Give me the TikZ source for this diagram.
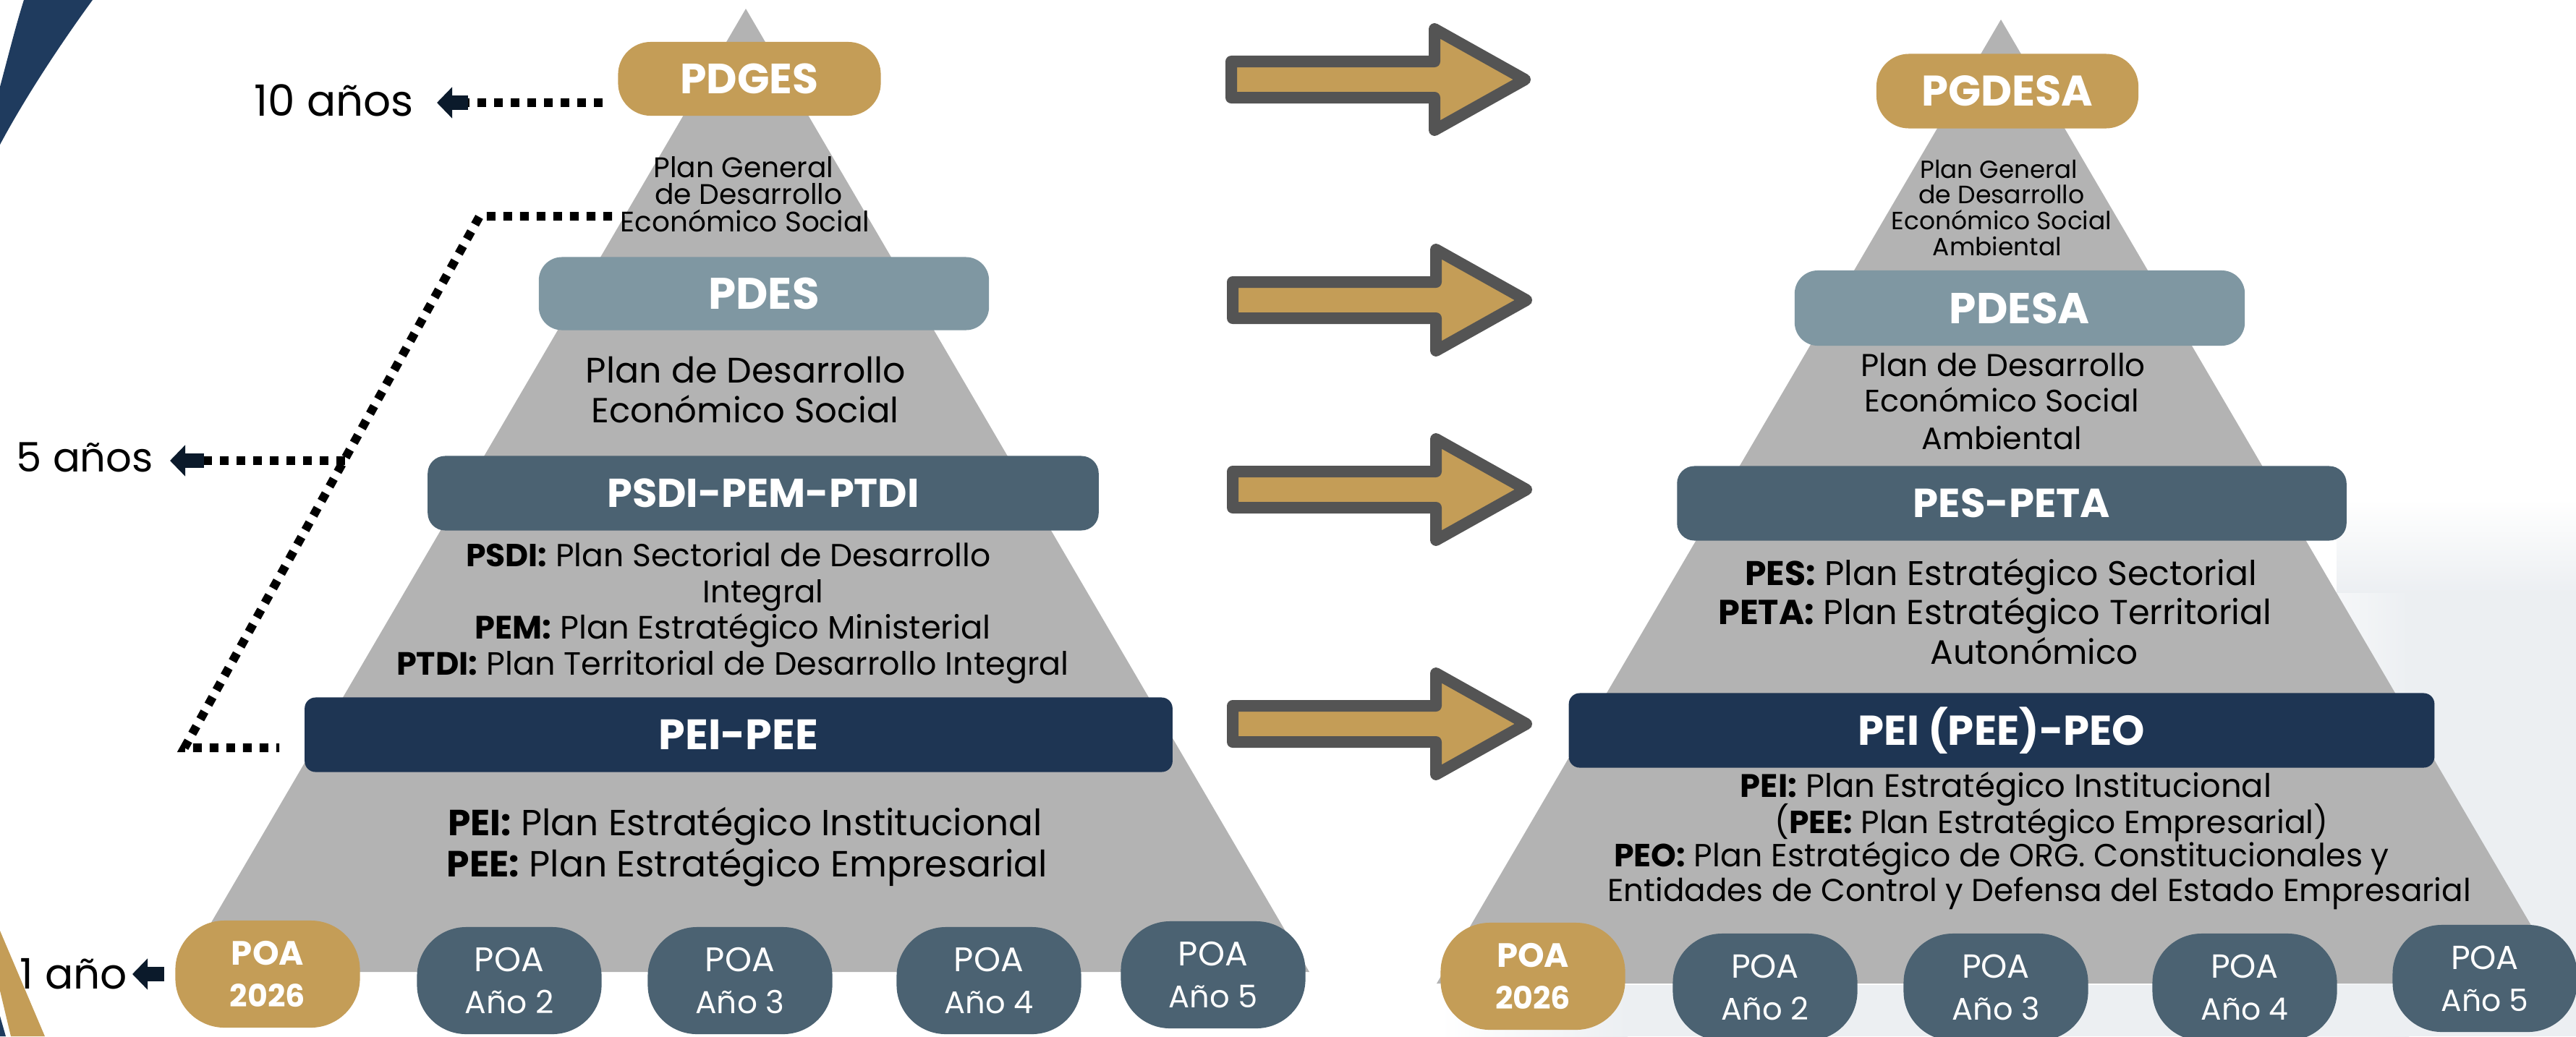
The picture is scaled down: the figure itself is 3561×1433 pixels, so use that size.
\documentclass[tikz,border=0pt]{standalone}
\usepackage{fontspec}
\setmainfont{Poppins}
\usetikzlibrary{arrows.meta}
\definecolor{goldc}{HTML}{C49D57}
\definecolor{pdesc}{HTML}{7F97A2}
\definecolor{slatec}{HTML}{4B6272}
\definecolor{navyc}{HTML}{1E3553}
\definecolor{pyrc}{HTML}{B3B3B3}
\definecolor{arrgray}{HTML}{545454}
\definecolor{inkc}{HTML}{0B1A2B}
\definecolor{swooshc}{HTML}{1F3B5E}
\definecolor{photoc}{HTML}{ECEFF2}
\newcommand\fsz[2]{\fontsize{#1pt}{#2pt}\selectfont}
\newcommand\fitw[2]{\resizebox{#1cm}{!}{#2}}
\tikzset{
  bigarrow/.pic={\draw[draw=arrgray, fill=goldc, line width=0.16cm, line join=round]
    (0,-25) -- (281,-25) -- (281,-70) -- (406,0) -- (281,70) -- (281,25) -- (0,25) -- cycle;}
}
\begin{document}
\begin{tikzpicture}[x=0.01cm, y=-0.01cm,
  every node/.style={inner sep=0pt, outer sep=0pt},
  bandbox/.style={rectangle, minimum height=1.03cm, text=white, font=\bfseries\fsz{13}{16}},
  poa/.style={rectangle, rounded corners=0.68cm, minimum width=2.55cm, minimum height=1.48cm,
    fill=slatec, text=white, align=center, font=\fsz{11}{16.5}},
  poagold/.style={poa, fill=goldc, font=\bfseries\fsz{11}{16.5}},
  tx/.style={anchor=base, font=\fsz{12}{14}},
  tE/.style={anchor=base east, font=\fsz{16}{19}},
  dotline/.style={draw=black, line width=0.12cm, dash pattern=on 0.12cm off 0.11cm},
  yeararrow/.style={draw=inkc, line width=0.2cm, -{Triangle[width=0.42cm,length=0.21cm]}}
]
\useasboundingbox (0,0) rectangle (3561,1433);
\clip (0,0) rectangle (3561,1433);

% background decorations
\shade[top color=white, bottom color=photoc] (3230,690) rectangle (3561,820);
\shade[left color=white, right color=photoc] (3130,820) rectangle (3330,1433);
\fill[photoc] (3330,820) rectangle (3561,1433);
\shade[left color=white, right color=photoc] (1990,1362) rectangle (2250,1433);
\fill[photoc] (2250,1362) rectangle (3330,1433);
\fill[swooshc] (33,0) -- (128,0) .. controls (95,45) and (40,125) .. (0,200) -- (0,120) .. controls (12,75) and (22,35) .. (33,0) -- cycle;
\fill[goldc] (0,1287) -- (62,1433) -- (15,1433) -- (0,1370) -- cycle;
\fill[swooshc] (0,1405) -- (8,1433) -- (0,1433) -- cycle;

% pyramids
\fill[pyrc] (1031,12) -- (1810,1344) -- (252,1344) -- cycle;
\fill[pyrc] (2766,27) -- (3546,1360) -- (1986,1360) -- cycle;

% coordinates for the time connectors
\coordinate (d10) at (833,142);
\coordinate (s10) at (647,142);
\coordinate (t10) at (604,142);
\coordinate (ptop) at (846,299);
\coordinate (pcorner) at (663,299);
\coordinate (pbot) at (255,1034);
\coordinate (pend) at (386,1034);
\coordinate (pmid) at (477,637);
\coordinate (s5) at (282,637);
\coordinate (t5) at (235,637);
\coordinate (s1) at (227,1347);
\coordinate (t1) at (183,1347);

\draw[dotline] (d10) -- (s10);
\draw[dotline] (ptop) -- (pcorner) -- (pbot) -- (pend);
\draw[dotline] (pmid) -- (s5);
\draw[yeararrow] (s10) -- (t10);
\draw[yeararrow] (s5) -- (t5);
\draw[yeararrow] (s1) -- (t1);

\node[tE] (y10) at (572,160) {\fitw{2.20}{10 años}};
\node[tE] (y5) at (212,652) {\fitw{1.89}{5 años}};
\node[tE] (y1) at (176,1367) {\fitw{1.48}{1 año}};

% left pyramid
\node[bandbox, fill=goldc, rounded corners=0.45cm, minimum width=3.63cm, minimum height=1.02cm] (pdges) at (1036,109) {\fitw{1.91}{PDGES}};
\node[tx] (lg1) at (1028,245) {\fitw{2.49}{Plan General}};
\node[tx] (lg2) at (1035,282) {\fitw{2.59}{de Desarrollo}};
\node[tx] (lg3) at (1030,320) {\fitw{3.44}{Económico Social}};
\node[bandbox, fill=pdesc, rounded corners=0.32cm, minimum width=6.22cm, minimum height=1.01cm] (pdes) at (1056,406) {\fitw{1.53}{PDES}};
\node[tx] (ld1) at (1031,529) {\fitw{4.42}{Plan de Desarrollo}};
\node[tx] (ld2) at (1030,584) {\fitw{4.25}{Económico Social}};
\node[bandbox, fill=slatec, rounded corners=0.24cm, minimum width=9.27cm] (psdi) at (1055,682) {\fitw{4.31}{PSDI-PEM-PTDI}};
\node[tx] (ls1) at (1007,783) {\fitw{7.25}{\textbf{PSDI:} Plan Sectorial de Desarrollo}};
\node[tx] (ls2) at (1055,833) {\fitw{1.66}{Integral}};
\node[tx] (ls3) at (1013,883) {\fitw{7.13}{\textbf{PEM:} Plan Estratégico Ministerial}};
\node[tx] (ls4) at (1013,933) {\fitw{9.29}{\textbf{PTDI:} Plan Territorial de Desarrollo Integral}};
\node[bandbox, fill=navyc, rounded corners=0.15cm, minimum width=11.99cm] (peipee) at (1021,1016) {\fitw{2.20}{PEI-PEE}};
\node[tx] (lp1) at (1030,1155) {\fitw{8.21}{\textbf{PEI:} Plan Estratégico Institucional}};
\node[tx] (lp2) at (1033,1212) {\fitw{8.30}{\textbf{PEE:} Plan Estratégico Empresarial}};

\node[poagold] (lpoa1) at (370,1347) {\fitw{1.00}{POA}\\\fitw{1.04}{2026}};
\node[poa] (lpoa2) at (704,1356) {\fitw{0.96}{POA}\\\fitw{1.23}{Año 2}};
\node[poa] (lpoa3) at (1023,1356) {\fitw{0.96}{POA}\\\fitw{1.23}{Año 3}};
\node[poa] (lpoa4) at (1367,1356) {\fitw{0.96}{POA}\\\fitw{1.23}{Año 4}};
\node[poa] (lpoa5) at (1677,1348) {\fitw{0.96}{POA}\\\fitw{1.23}{Año 5}};

% big arrows
\pic at (1702,110) {bigarrow};
\pic at (1704,415) {bigarrow};
\pic at (1704,677) {bigarrow};
\pic at (1704,1001) {bigarrow};

% right pyramid
\node[bandbox, fill=goldc, rounded corners=0.45cm, minimum width=3.62cm] (pgdesa) at (2775,126) {\fitw{2.37}{PGDESA}};
\node[tx] (rg1) at (2763,246) {\fitw{2.17}{Plan General}};
\node[tx] (rg2) at (2767,281) {\fitw{2.29}{de Desarrollo}};
\node[tx] (rg3) at (2767,317) {\fitw{3.04}{Económico Social}};
\node[tx] (rg4) at (2761,353) {\fitw{1.78}{Ambiental}};
\node[bandbox, fill=pdesc, rounded corners=0.32cm, minimum width=6.22cm, minimum height=1.04cm] (pdesa) at (2792,426) {\fitw{1.94}{PDESA}};
\node[tx] (rd1) at (2769,520) {\fitw{3.93}{Plan de Desarrollo}};
\node[tx] (rd2) at (2767,569) {\fitw{3.79}{Económico Social}};
\node[tx] (rd3) at (2767,621) {\fitw{2.21}{Ambiental}};
\node[bandbox, fill=slatec, rounded corners=0.24cm, minimum width=9.25cm] (pespeta) at (2781,696) {\fitw{2.72}{PES-PETA}};
\node[tx] (rs1) at (2766,809) {\fitw{7.07}{\textbf{PES:} Plan Estratégico Sectorial}};
\node[tx] (rs2) at (2758,863) {\fitw{7.65}{\textbf{PETA:} Plan Estratégico Territorial}};
\node[tx] (rs3) at (2812,918) {\fitw{2.87}{Autonómico}};
\node[bandbox, fill=navyc, rounded corners=0.15cm, minimum width=11.96cm] (peipeo) at (2767,1010) {\fitw{3.96}{PEI (PEE)-PEO}};
\node[tx] (rp1) at (2773,1102) {\fitw{7.34}{\textbf{PEI:} Plan Estratégico Institucional}};
\node[tx] (rp2) at (2836,1152) {\fitw{7.65}{(\textbf{PEE:} Plan Estratégico Empresarial)}};
\node[tx] (rp3) at (2767,1198) {\fitw{10.71}{\textbf{PEO:} Plan Estratégico de ORG. Constitucionales y}};
\node[tx] (rp4) at (2819,1246) {\fitw{11.93}{Entidades de Control y Defensa del Estado Empresarial}};

\node[poagold] (rpoa1) at (2119,1350) {\fitw{1.00}{POA}\\\fitw{1.04}{2026}};
\node[poa] (rpoa2) at (2440,1365) {\fitw{0.94}{POA}\\\fitw{1.21}{Año 2}};
\node[poa] (rpoa3) at (2759,1365) {\fitw{0.94}{POA}\\\fitw{1.21}{Año 3}};
\node[poa] (rpoa4) at (3103,1365) {\fitw{0.94}{POA}\\\fitw{1.21}{Año 4}};
\node[poa] (rpoa5) at (3435,1353) {\fitw{0.94}{POA}\\\fitw{1.21}{Año 5}};
\end{tikzpicture}
\end{document}
